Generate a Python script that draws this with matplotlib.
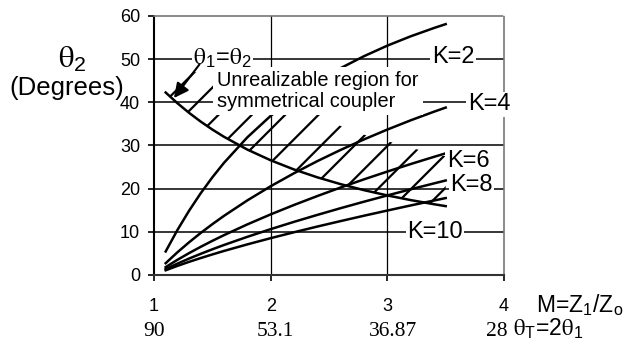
import matplotlib
matplotlib.use('Agg')
import matplotlib.pyplot as plt

plt.rcParams['font.family'] = ['Liberation Sans', 'DejaVu Sans']
plt.rcParams['mathtext.fontset'] = 'stix'
plt.rcParams['hatch.color'] = 'black'
plt.rcParams['hatch.linewidth'] = 1.6

# M = Z1/Zo sample points
m = [1.1, 1.2, 1.3, 1.4, 1.5, 1.6, 1.8, 2.0, 2.2, 2.4, 2.6, 2.8, 3.0, 3.2, 3.4, 3.5]

# theta2 (degrees) for each K
k2 = [5.45, 10.39, 14.86, 18.93, 22.62, 25.99, 31.89, 36.87, 41.11, 44.76, 47.92, 50.69, 53.13, 55.29, 57.22, 58.11]
k4 = [2.73, 5.24, 7.56, 9.73, 11.77, 13.70, 17.28, 20.56, 23.57, 26.38, 28.98, 31.41, 33.69, 35.83, 37.83, 38.78]
k6 = [1.82, 3.50, 5.06, 6.52, 7.91, 9.23, 11.72, 14.04, 16.22, 18.29, 20.27, 22.16, 23.96, 25.70, 27.37, 28.18]
k8 = [1.37, 2.62, 3.80, 4.90, 5.95, 6.95, 8.84, 10.62, 12.31, 13.92, 15.48, 16.98, 18.43, 19.85, 21.22, 21.89]
k10 = [1.09, 2.10, 3.04, 3.92, 4.76, 5.57, 7.09, 8.53, 9.90, 11.22, 12.49, 13.73, 14.93, 16.11, 17.25, 17.82]

# theta1 = theta2 boundary
boundary = [42.27, 39.81, 37.57, 35.54, 33.69, 32.01, 29.05, 26.57, 24.44, 22.62, 21.04, 19.65, 18.43, 17.35, 16.39, 15.95]
# top edge of the hatched (unrealizable) region
hatch_top = [47, 47, 47, 47, 47, 47, 47, 47, 47, 37.5, 34.5, 32.5, 31, 29.5, 28, 27.5]

k_names = ['K=2', 'K=4', 'K=6', 'K=8', 'K=10']
k_label_pos = [(3.38, 49.1), (3.69, 38.2), (3.51, 25.0), (3.54, 19.5), (3.17, 8.6)]

m_ticks = [1, 2, 3, 4]
theta_t = ['90', '53.1', '36.87', '28']
theta_t_pos = [1.0, 2.04, 3.05, 3.94]

fig = plt.figure(figsize=(6.38, 3.43), dpi=100)
ax = fig.add_axes([0.2414, 0.1983, 0.5486, 0.7551])

ax.set_xlim(1, 4)
ax.set_ylim(0, 60)
ax.set_xticks(m_ticks)
ax.set_yticks(range(0, 61, 10))

for y in range(10, 60, 10):
    ax.axhline(y, color='black', lw=1.1, zorder=1)
for x in [2, 3]:
    ax.axvline(x, color='black', lw=0.9, zorder=1)

ax.fill_between(m, boundary, hatch_top, facecolor='none', edgecolor='black',
                hatch='/', linewidth=0, zorder=1.5)

for series in [k2, k4, k6, k8, k10]:
    ax.plot(m, series, color='black', lw=1.8, zorder=2)
ax.plot(m, boundary, color='black', lw=1.8, zorder=2)

for name, (lx, ly) in zip(k_names, k_label_pos):
    ax.text(lx, ly, name, fontsize=17, ha='left', va='baseline', zorder=5,
            clip_on=False, bbox=dict(facecolor='white', edgecolor='none', pad=1))

ax.text(1.335, 48.6, r'$\mathrm{\theta}_\mathregular{1}$=$\mathrm{\theta}_\mathregular{2}$',
        fontsize=17, ha='left', va='baseline', zorder=4.5,
        bbox=dict(boxstyle='square,pad=0.05', facecolor='white', edgecolor='none'))
ax.text(1.54, 47.2, 'Unrealizable region for\nsymmetrical coupler', fontsize=14.4,
        ha='left', va='top', zorder=4, linespacing=1.15,
        bbox=dict(boxstyle='square,pad=0.2', facecolor='white', edgecolor='none'))
ax.annotate('', xy=(1.171, 41.0), xytext=(1.39, 48.8), zorder=6,
            arrowprops=dict(arrowstyle='-|>', color='black', lw=1.5,
                            mutation_scale=22, shrinkA=0, shrinkB=0))

for side in ['top', 'right']:
    ax.spines[side].set_linestyle((0, (1, 1)))
    ax.spines[side].set_color('#777777')
    ax.spines[side].set_linewidth(1.2)
ax.spines['left'].set_linewidth(1.5)
ax.spines['bottom'].set_linewidth(1.5)
ax.spines['bottom'].set_color('#333333')

ax.tick_params(axis='y', direction='out', length=4, width=1.2, pad=6, labelsize=13)
ax.tick_params(axis='x', direction='out', length=4, width=1.2, pad=12.5, labelsize=13)

for x, lab in zip(theta_t_pos, theta_t):
    ax.text(x, -0.22, lab, transform=ax.get_xaxis_transform(), ha='center', va='center',
            fontsize=15.5, family=['Liberation Serif'], clip_on=False)

ax.text(4.27, -0.115, r'M=Z$_\mathregular{1}$/Z$_\mathregular{o}$', transform=ax.get_xaxis_transform(),
        ha='left', va='center', fontsize=16.5, clip_on=False)
ax.text(4.08, -0.205, r'$\mathrm{\theta}_\mathregular{T}$=2$\mathrm{\theta}_\mathregular{1}$',
        transform=ax.get_xaxis_transform(), ha='left', va='center', fontsize=16.5, clip_on=False)

fig.text(0.113, 0.825, r'$\mathrm{\theta}_\mathregular{2}$', fontsize=22, ha='center', va='center')
fig.text(0.105, 0.743, '(Degrees)', fontsize=18.5, ha='center', va='center')

fig.savefig('out.png', dpi=100)
